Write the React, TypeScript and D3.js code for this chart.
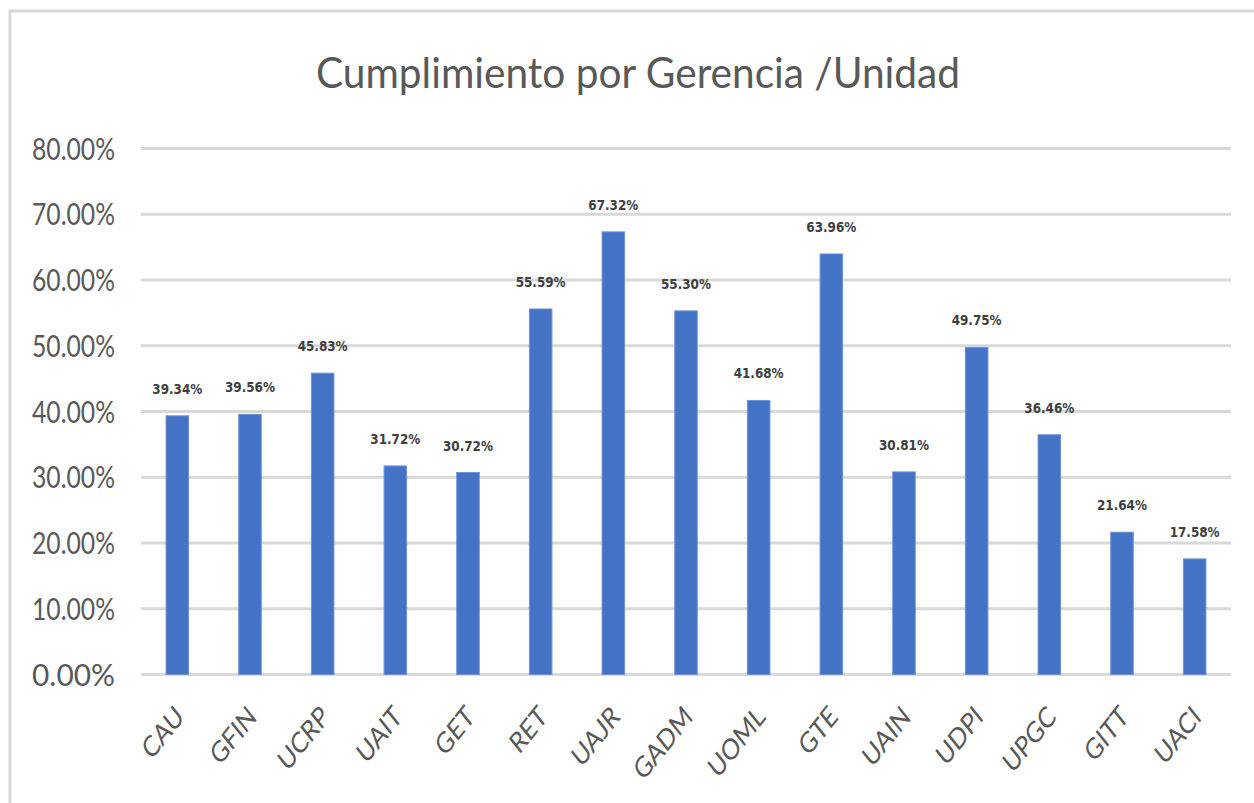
import * as React from "react";
import * as d3 from "d3";

// categories and values
const units = ["CAU", "GFIN", "UCRP", "UAIT", "GET", "RET", "UAJR", "GADM", "UOML", "GTE", "UAIN", "UDPI", "UPGC", "GITT", "UACI"];
const compliance = [39.34, 39.56, 45.83, 31.72, 30.72, 55.59, 67.32, 55.3, 41.68, 63.96, 30.81, 49.75, 36.46, 21.64, 17.58];
const yTicks = [0, 10, 20, 30, 40, 50, 60, 70, 80];

const W = 1254;
const H = 803;
const left = 141;
const right = 1231;
const top = 148.5;
const bottom = 674.5;

export default function App() {
  const x = d3.scaleBand<string>().domain(units).range([left, right]).paddingInner(0.69).paddingOuter(0.345);
  const y = d3.scaleLinear().domain([0, 80]).range([bottom, top]);
  const fmt = (v: number) => v.toFixed(2) + "%";

  return (
    <svg width={W} height={H} style={{ position: "absolute", left: 0, top: 0, background: "#fff" }}>
      <rect x={10} y={11} width={W + 20} height={H + 20} fill="#fff" stroke="#d9d9d9" strokeWidth={3} />

      <text
        x={638}
        y={88}
        textAnchor="middle"
        fontFamily="Lato, 'Open Sans', sans-serif"
        fontSize={42}
        fill="#595959"
        textLength={644}
        lengthAdjust="spacingAndGlyphs"
      >
        Cumplimiento por Gerencia /Unidad
      </text>

      {/* grid */}
      <g>
        {yTicks.map(t => (
          <line key={t} x1={left} x2={right} y1={y(t)} y2={y(t)} stroke="#d9d9d9" strokeWidth={3} />
        ))}
      </g>

      {/* y labels */}
      <g fontFamily="Lato, 'Open Sans', sans-serif" fontSize={31} fill="#595959">
        {yTicks.map(t => (
          <text key={t} x={115} y={y(t) + 11} textAnchor="end" textLength={83} lengthAdjust="spacingAndGlyphs">
            {fmt(t)}
          </text>
        ))}
      </g>

      {/* bars */}
      <g>
        {units.map((u, i) => (
          <rect
            key={u}
            x={x(u)}
            y={y(compliance[i])}
            width={x.bandwidth()}
            height={y(0) - y(compliance[i])}
            fill="#4472c4"
            stroke="#6d92d8"
            strokeWidth={1}
          />
        ))}
      </g>

      {/* value labels */}
      <g fontFamily="'DejaVu Sans Condensed', 'DejaVu Sans', sans-serif" fontWeight="bold" fontSize={14} fill="#404040">
        {units.map((u, i) => (
          <text
            key={u}
            x={(x(u) as number) + x.bandwidth() / 2}
            y={y(compliance[i]) - 22}
            textAnchor="middle"
            textLength={50}
            lengthAdjust="spacingAndGlyphs"
          >
            {fmt(compliance[i])}
          </text>
        ))}
      </g>

      {/* x labels */}
      <g fontFamily="Lato, 'Open Sans', sans-serif" fontSize={29} fill="#595959">
        {units.map(u => {
          const cx = (x(u) as number) + x.bandwidth() / 2;
          return (
            <text key={u} transform={`translate(${cx + 8},${bottom + 44}) scale(0.8,1) rotate(-45)`} textAnchor="end">
              {u}
            </text>
          );
        })}
      </g>
    </svg>
  );
}
